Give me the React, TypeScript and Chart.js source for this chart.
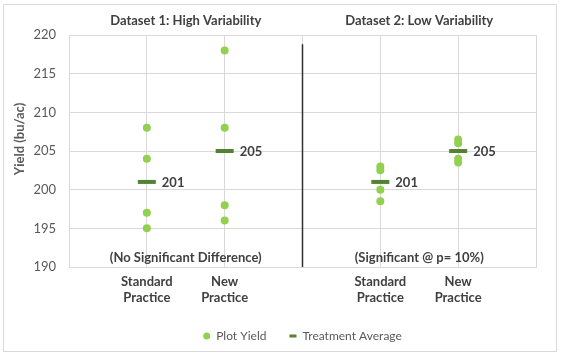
import React, { useEffect, useRef } from "react";
import { Chart, registerables } from "chart.js";

Chart.register(...registerables);

// ---- data ----
const tickLabels: Record<number, string[]> = {
  1: ["Standard", "Practice"],
  2: ["New", "Practice"],
  4: ["Standard", "Practice"],
  5: ["New", "Practice"],
};
const groupTitles = ["Dataset 1: High Variability", "Dataset 2: Low Variability"];
const groupNotes = ["(No Significant Difference)", "(Significant @ p= 10%)"];
const groupCenters = [1.5, 4.5];

const std1Yields = [208, 204, 197, 195];
const new1Yields = [218, 208, 198, 196];
const std2Yields = [203, 202.5, 200, 198.5];
const new2Yields = [206.5, 206, 204, 203.5];
const positions = [1, 2, 4, 5];
const averages = [201, 205, 201, 205];
const dividerX = 3;
const dividerRange = [218.8, 190];

const FONT = "Lato, 'Noto Sans', sans-serif";
const TEXT = "#404040";
const AXIS_TEXT = "#595959";
const GRID = "#d9d9d9";

const plotYield = [std1Yields, new1Yields, std2Yields, new2Yields].flatMap((arr, i) =>
  arr.map((y) => ({ x: positions[i], y }))
);
const avgPoints = averages.map((y, i) => ({ x: positions[i], y }));
const dividerPoints = dividerRange.map((y) => ({ x: dividerX, y }));

const overlayPlugin = {
  id: "overlay",
  afterDatasetsDraw(chart: any) {
    const { ctx, scales } = chart;
    const xs = scales.x;
    const ys = scales.y;
    ctx.save();
    // value labels for averages
    const meta = chart.getDatasetMeta(1);
    ctx.font = `bold 13px ${FONT}`;
    ctx.fillStyle = TEXT;
    ctx.textAlign = "left";
    ctx.textBaseline = "middle";
    meta.data.forEach((el: any, i: number) => {
      ctx.fillText(String(averages[i]), el.x + 15, el.y + 1);
    });
    // group titles
    ctx.textAlign = "center";
    groupTitles.forEach((t, i) => {
      ctx.font = `bold 13px ${FONT}`;
      ctx.fillText(t, xs.getPixelForValue(groupCenters[i]), 21);
    });
    // notes
    groupNotes.forEach((t, i) => {
      ctx.font = `bold 13px ${FONT}`;
      ctx.fillText(t, xs.getPixelForValue(groupCenters[i]), ys.bottom - 9);
    });
    // y title
    ctx.translate(20, 139);
    ctx.rotate(-Math.PI / 2);
    ctx.font = `bold 13px ${FONT}`;
    ctx.fillStyle = AXIS_TEXT;
    ctx.fillText("Yield (bu/ac)", 0, 0);
    ctx.restore();
  },
  afterDraw(chart: any) {
    const { ctx } = chart;
    ctx.save();
    ctx.strokeStyle = GRID;
    ctx.lineWidth = 1;
    ctx.strokeRect(3.5, 4.5, 553, 347);
    ctx.restore();
  },
};

export default function App() {
  const ref = useRef<HTMLCanvasElement>(null);
  useEffect(() => {
    document.body.style.margin = "0";
    const chart = new Chart(ref.current!, {
      type: "scatter",
      data: {
        datasets: [
          {
            label: "Plot Yield",
            data: plotYield,
            backgroundColor: "#92D050",
            borderColor: "#92D050",
            borderWidth: 0,
            pointRadius: 4,
            pointHoverRadius: 4,
          },
          {
            label: "Treatment Average",
            data: avgPoints,
            pointStyle: "line",
            backgroundColor: "#548235",
            borderColor: "#548235",
            borderWidth: 4,
            pointRadius: 9,
            pointHoverRadius: 9,
          },
          {
            label: "divider",
            data: dividerPoints,
            showLine: true,
            borderColor: "#303030",
            borderWidth: 1.5,
            pointRadius: 0,
          } as any,
        ],
      },
      options: {
        animation: false,
        responsive: false,
        events: [],
        layout: { padding: { left: 0, right: 25, top: 35, bottom: 4 } },
        plugins: {
          tooltip: { enabled: false },
          legend: {
            position: "bottom",
            fullSize: false,
            labels: {
              usePointStyle: true,
              boxHeight: 5,
              pointStyleWidth: 7,
              padding: 23,
              color: AXIS_TEXT,
              font: { family: FONT, size: 12 },
              filter: (item: any) => item.datasetIndex !== 2,
              generateLabels: (c: any) =>
                Chart.defaults.plugins.legend.labels
                  .generateLabels(c)
                  .map((l: any) => (l.datasetIndex === 1 ? { ...l, lineWidth: 3 } : l)),
            },
          } as any,
        },
        scales: {
          x: {
            type: "linear",
            min: 0,
            max: 6,
            afterFit: (s: any) => {
              s.height = 40;
            },
            ticks: {
              stepSize: 1,
              padding: 7,
              color: TEXT,
              font: { family: FONT, size: 13, weight: "bold", lineHeight: "16px" } as any,
              callback: (v: any) => tickLabels[v as number] ?? "",
            },
            grid: { color: GRID, drawTicks: false },
            border: { color: GRID },
          },
          y: {
            min: 190,
            max: 220,
            afterFit: (s: any) => {
              s.width = 69;
            },
            ticks: {
              stepSize: 5,
              padding: 13,
              color: AXIS_TEXT,
              font: { family: FONT, size: 13 },
            },
            grid: { color: GRID, drawTicks: false },
            border: { color: GRID },
          },
        },
      },
      plugins: [overlayPlugin],
    });
    return () => chart.destroy();
  }, []);
  return (
    <div style={{ width: 561, height: 356 }}>
      <canvas ref={ref} width={561} height={356} />
    </div>
  );
}
